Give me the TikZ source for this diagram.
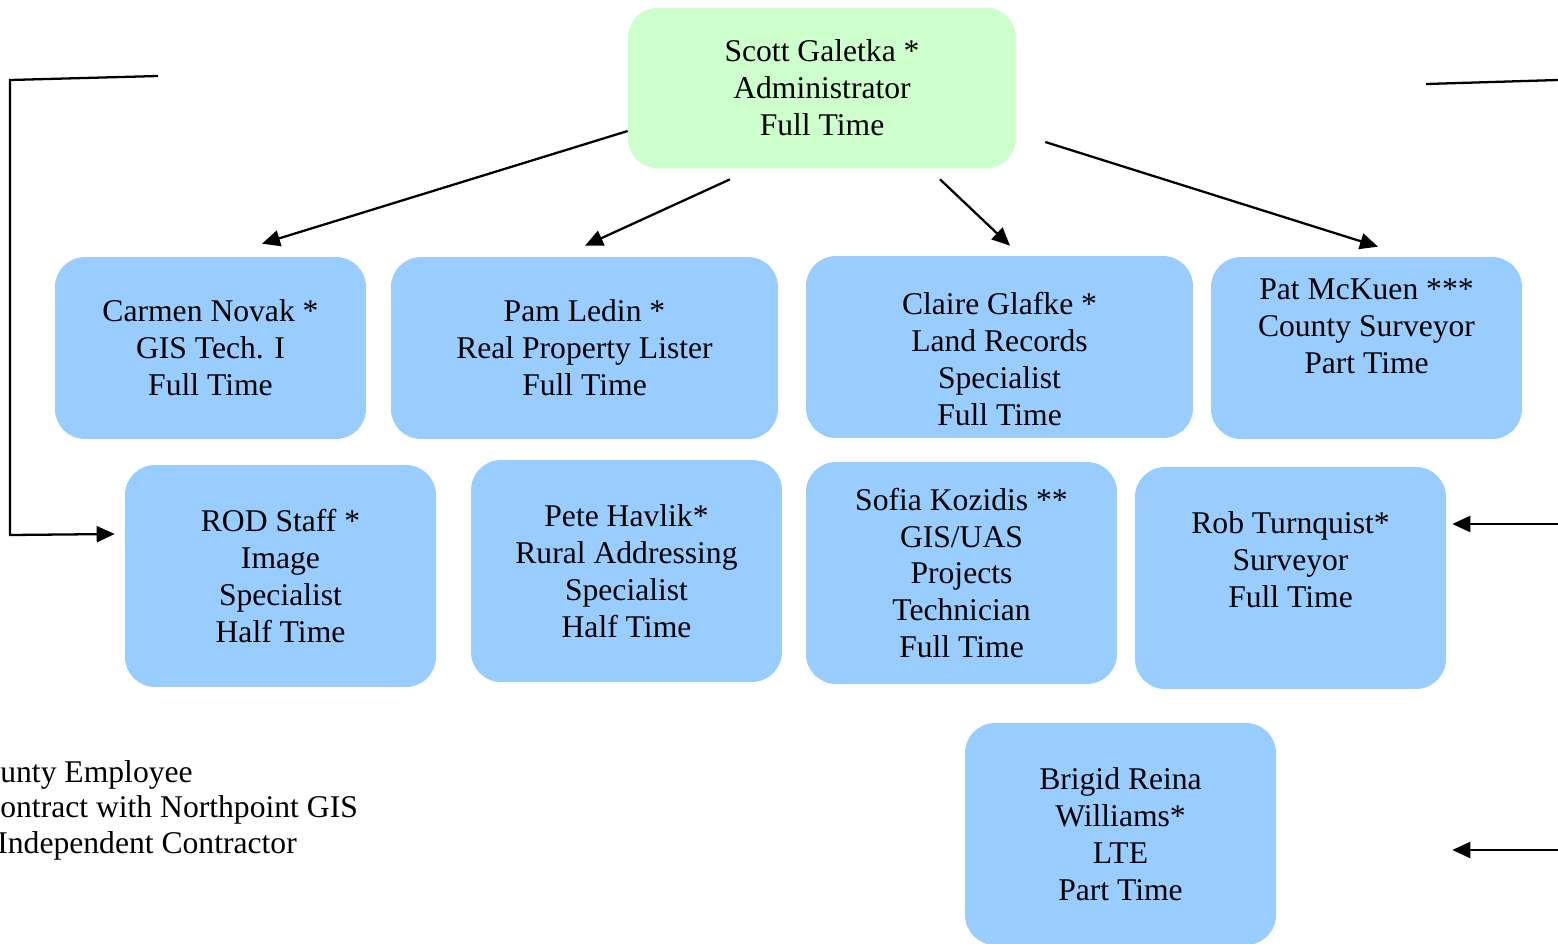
\documentclass[tikz,border=0pt]{standalone}
\usepackage{fontspec}
\setmainfont{Liberation Serif}
\usetikzlibrary{arrows.meta,calc}

\definecolor{headgreen}{HTML}{CCFFCC}
\definecolor{staffblue}{HTML}{99CCFF}

\begin{document}
\begin{tikzpicture}[x=0.02cm,y=-0.02cm]
\tikzstyle{every node}+=[inner sep=0pt, font=\fontsize{18}{21}\selectfont]
\tikzstyle{box}=[rounded corners=0.6cm, align=center, minimum width=6.22cm]
\tikzstyle{head}=[box, fill=headgreen, minimum width=7.76cm, minimum height=3.22cm]
\tikzstyle{top}=[box, fill=staffblue, minimum height=3.64cm]
\tikzstyle{low}=[box, fill=staffblue, minimum height=4.44cm]
\tikzstyle{wide}=[minimum width=7.74cm]
\tikzstyle{arr}=[black, line width=1.3pt, -{Triangle[length=0.36cm,width=0.32cm]}]
\tikzstyle{plain}=[black, line width=1.3pt]
\useasboundingbox (0,0) rectangle (1558,943);
% head
\node [head] (scott) at (822,88) {Scott Galetka *\\Administrator\\Full Time};
% first row
\node [top] (carmen) at (210.5,348) {Carmen Novak *\\GIS Tech. I\\Full Time};
\node [top, wide] (pam) at (584.5,348) {Pam Ledin *\\Real Property Lister\\Full Time};
\node [top, wide] (claire) at (999.5,347) {\strut\\[-9pt]Claire Glafke *\\Land Records\\Specialist\\Full Time};
\node [top] (pat) at (1366.5,348) {Pat McKuen ***\\County Surveyor\\Part Time\\[4pt]};
% second row
\node [low] (rod) at (280.5,576) {ROD Staff *\\Image\\Specialist\\Half Time};
\node [low] (pete) at (626.5,571) {Pete Havlik*\\Rural Addressing\\Specialist\\Half Time};
\node [low] (sofia) at (961.5,573) {Sofia Kozidis **\\GIS/UAS\\Projects\\Technician\\Full Time};
\node [low] (rob) at (1290.5,578) {Rob Turnquist*\\Surveyor\\Full Time\\[0pt]};
\node [low] (brigid) at (1120.5,834) {Brigid Reina\\Williams*\\LTE\\Part Time};
% legend
\node [anchor=west] (leg1) at (0,775) {unty Employee};
\node [anchor=west] (leg2) at (0,810) {ontract with Northpoint GIS};
\node [anchor=west] (leg3) at (-3,846) {Independent Contractor};
% arrows from the head
\draw [arr] ($(scott.west)+(0,43)$) -- ($(carmen.north)+(51.5,-13)$);
\draw [arr] ($(scott.south)+(-92,10.5)$) -- ($(pam.north)+(0.5,-11)$);
\draw [arr] ($(scott.south)+(118,10.5)$) -- ($(claire.north)+(10.5,-10)$);
\draw [arr] ($(scott.east)+(29,54)$) -- ($(pat.north)+(11.5,-10)$);
% side lines
\coordinate (lefttop) at (158,76);
\coordinate (righttop) at (1426,84);
\coordinate (rightedge) at (1558,80);
\draw [arr] (lefttop) -- (10,80) -- (10,535) -- ($(rod.west)+(-10,-42)$);
\draw [plain] (righttop) -- (rightedge);
\draw [arr] (1558,524) -- ($(rob.east)+(6,-54)$);
\draw [arr] (1558,850) -- ($(brigid.east)+(176,16)$);
\end{tikzpicture}
\end{document}
